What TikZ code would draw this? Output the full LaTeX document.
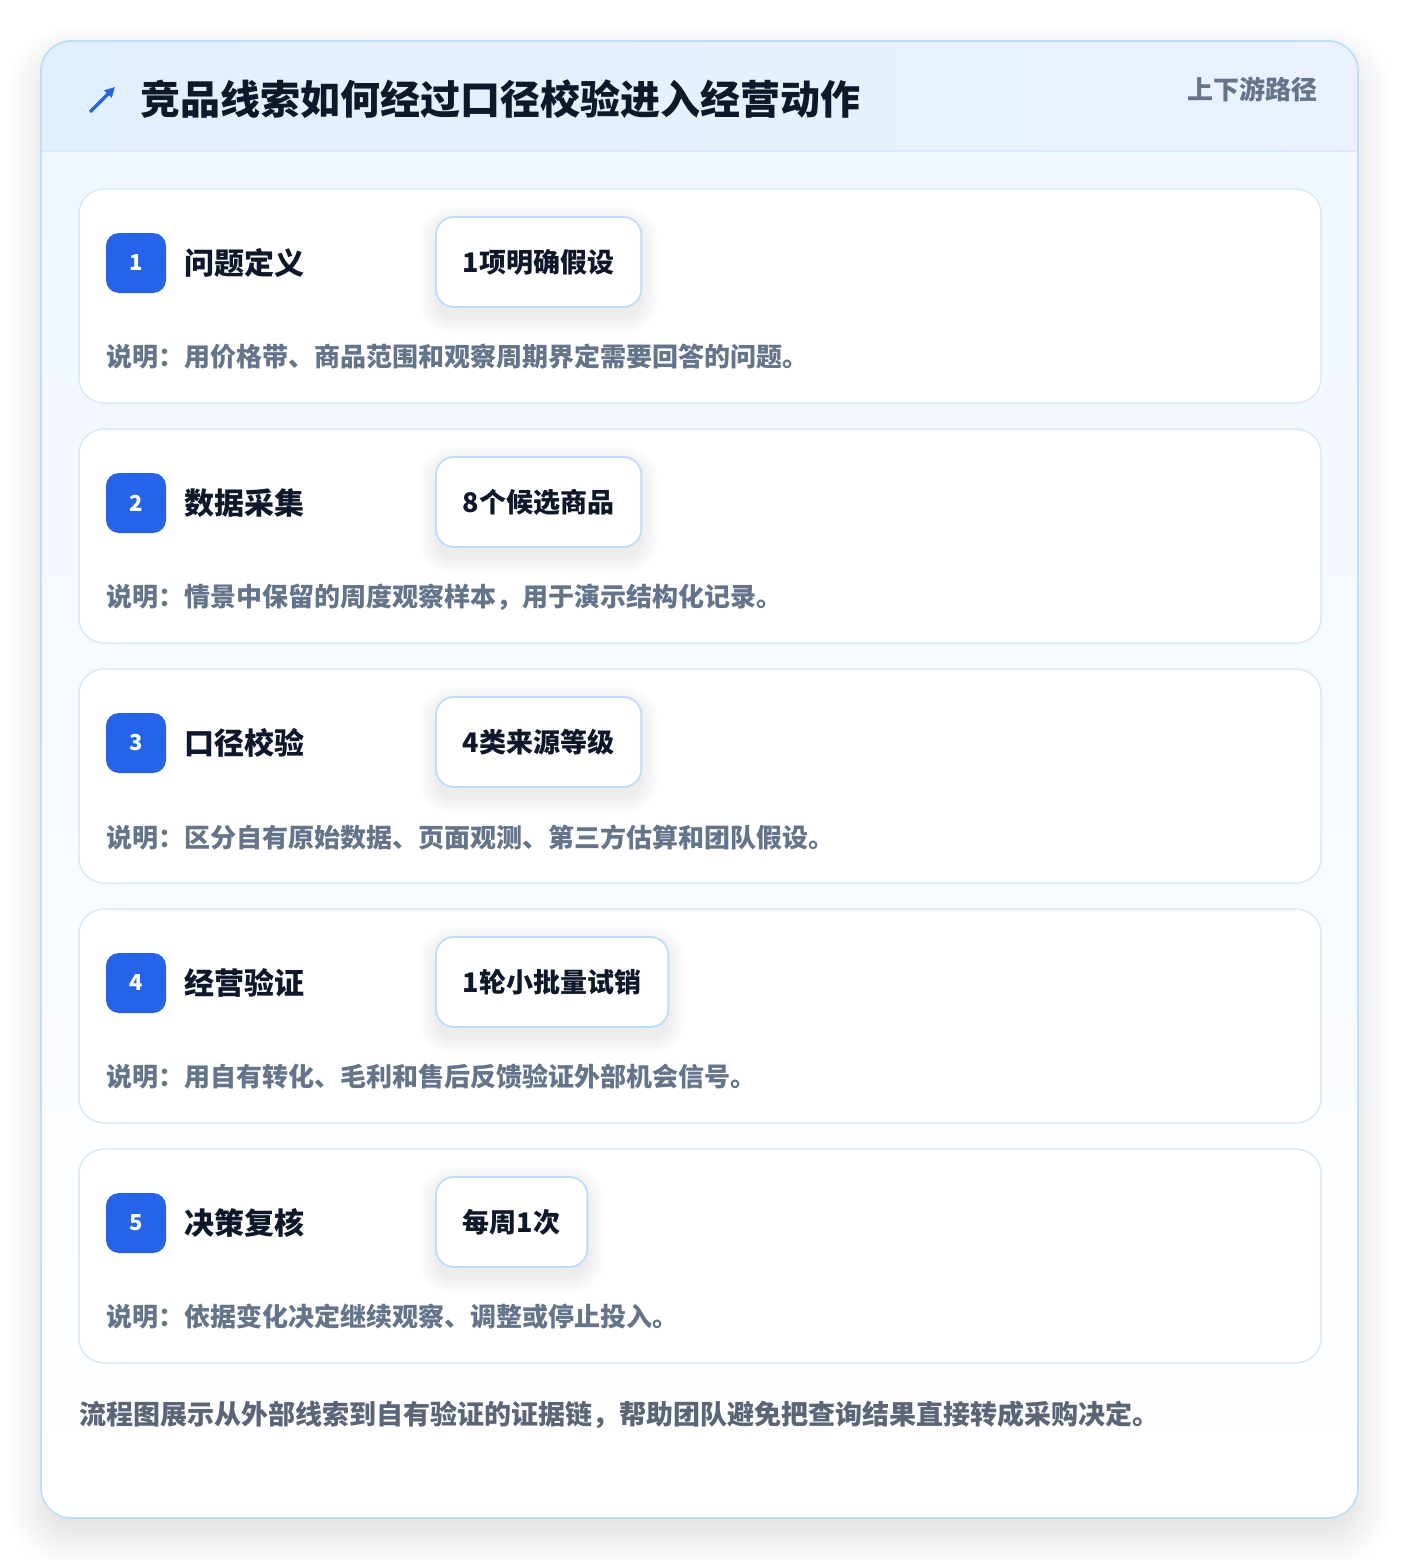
\documentclass[tikz,border=0pt]{standalone}
\usepackage{fontspec}
\setmainfont{Noto Sans CJK SC}
\usetikzlibrary{shadows.blur,arrows.meta}
\definecolor{titlec}{HTML}{0F172A}
\definecolor{descc}{HTML}{64748B}
\definecolor{footc}{HTML}{5B6577}
\definecolor{blueb}{HTML}{2563EB}
\definecolor{tagborder}{HTML}{BFDBFE}
\definecolor{cardborder}{HTML}{D9E8FA}
\definecolor{outerborder}{HTML}{BEE0F6}
\definecolor{headL}{HTML}{E1F0FE}
\definecolor{headR}{HTML}{EBF1FE}
\definecolor{bodyT}{HTML}{F0F7FF}
\definecolor{shadowc}{HTML}{1E293B}
\pgfdeclarelayer{back}
\pgfdeclarelayer{cards}
\pgfdeclarelayer{shadowl}
\pgfsetlayers{back,cards,shadowl,main}
\tikzset{
  cardbox/.style={draw=cardborder, line width=1.5pt, fill=white, rounded corners=25pt},
  badge/.style={fill=blueb, rounded corners=13pt, minimum width=60pt, minimum height=60pt, inner sep=0pt,
    text=white, font=\fontsize{22}{26}\selectfont\bfseries},
  steptitle/.style={anchor=west, inner sep=0pt, text=titlec, font=\fontsize{30}{36}\selectfont\bfseries},
  tagbox/.style={anchor=west, draw=tagborder, line width=1.8pt, fill=white, rounded corners=18pt,
    minimum height=90pt, inner xsep=27pt, text=titlec, font=\fontsize{27}{32}\selectfont\bfseries},
  shadowlayer/.style={fill=shadowc, fill opacity=0.006},
  desctext/.style={anchor=west, inner sep=0pt, text=descc, font=\fontsize{26}{30}\selectfont\bfseries},
}
\begin{document}
\begin{tikzpicture}[x=1pt,y=-1pt]
\useasboundingbox (0,0) rectangle (1400,1560);
\begin{pgfonlayer}{back}
% outer card
\path[fill=white, rounded corners=30pt,
  blur shadow={shadow xshift=0pt, shadow yshift=-18pt, shadow blur radius=34pt, shadow opacity=14, shadow blur steps=16}]
  (41,41) rectangle (1358,1518);
\begin{scope}
  \clip[rounded corners=30pt] (41,41) rectangle (1358,1518);
  \shade[top color=bodyT, bottom color=white] (41,151) rectangle (1358,1518);
  \shade[left color=headL, right color=headR] (41,41) rectangle (1358,151);
  \draw[cardborder, line width=1.5pt] (41,151) -- (1358,151);
\end{scope}
\draw[outerborder, line width=1.8pt, rounded corners=30pt] (41,41) rectangle (1358,1518);
\end{pgfonlayer}
% header
\coordinate (iconA) at (90,112);
\coordinate (iconB) at (115,87);
\draw[blueb, line width=3.2pt, -{Triangle[length=10pt,width=10pt]}] (iconA) -- (iconB);
\node[anchor=west, inner sep=0pt, text=titlec, font=\fontsize{40}{48}\selectfont\bfseries] (title) at (140,99) {竞品线索如何经过口径校验进入经营动作};
\node[anchor=east, inner sep=0pt, text=descc, font=\fontsize{26}{30}\selectfont\bfseries] (sub) at (1318,89) {上下游路径};
% cards
\foreach \i/\t/\tag/\d [count=\k from 0] in {
  1/问题定义/1项明确假设/说明：用价格带、商品范围和观察周期界定需要回答的问题。,
  2/数据采集/8个候选商品/说明：情景中保留的周度观察样本，用于演示结构化记录。,
  3/口径校验/4类来源等级/说明：区分自有原始数据、页面观测、第三方估算和团队假设。,
  4/经营验证/1轮小批量试销/说明：用自有转化、毛利和售后反馈验证外部机会信号。,
  5/决策复核/每周1次/说明：依据变化决定继续观察、调整或停止投入。}
{
  \pgfmathsetmacro{\top}{189+240*\k}
  \begin{pgfonlayer}{cards}
  \path[cardbox] (79,\top) rectangle (1321,\top+214);
  \end{pgfonlayer}
  \node[badge] (b\i) at (136,\top+74) {\i};
  \node[steptitle] (t\i) at (184,\top+74) {\t};
  \node[tagbox] (g\i) at (435,\top+73) {\tag};
  \begin{pgfonlayer}{shadowl}
  \foreach \e in {0,2,...,16} {
    \path[shadowlayer, rounded corners=18pt+\e pt]
      ([xshift=-\e pt, yshift=-6pt+\e pt]g\i.north west) rectangle ([xshift=\e pt, yshift=-10pt-\e pt]g\i.south east);
  }
  \end{pgfonlayer}
  \node[desctext] (d\i) at (106,\top+168) {\d};
}
% footer
\node[anchor=west, inner sep=0pt, text=footc, font=\fontsize{27}{31}\selectfont\bfseries] (foot) at (79,1415) {流程图展示从外部线索到自有验证的证据链，帮助团队避免把查询结果直接转成采购决定。};
\end{tikzpicture}
\end{document}
